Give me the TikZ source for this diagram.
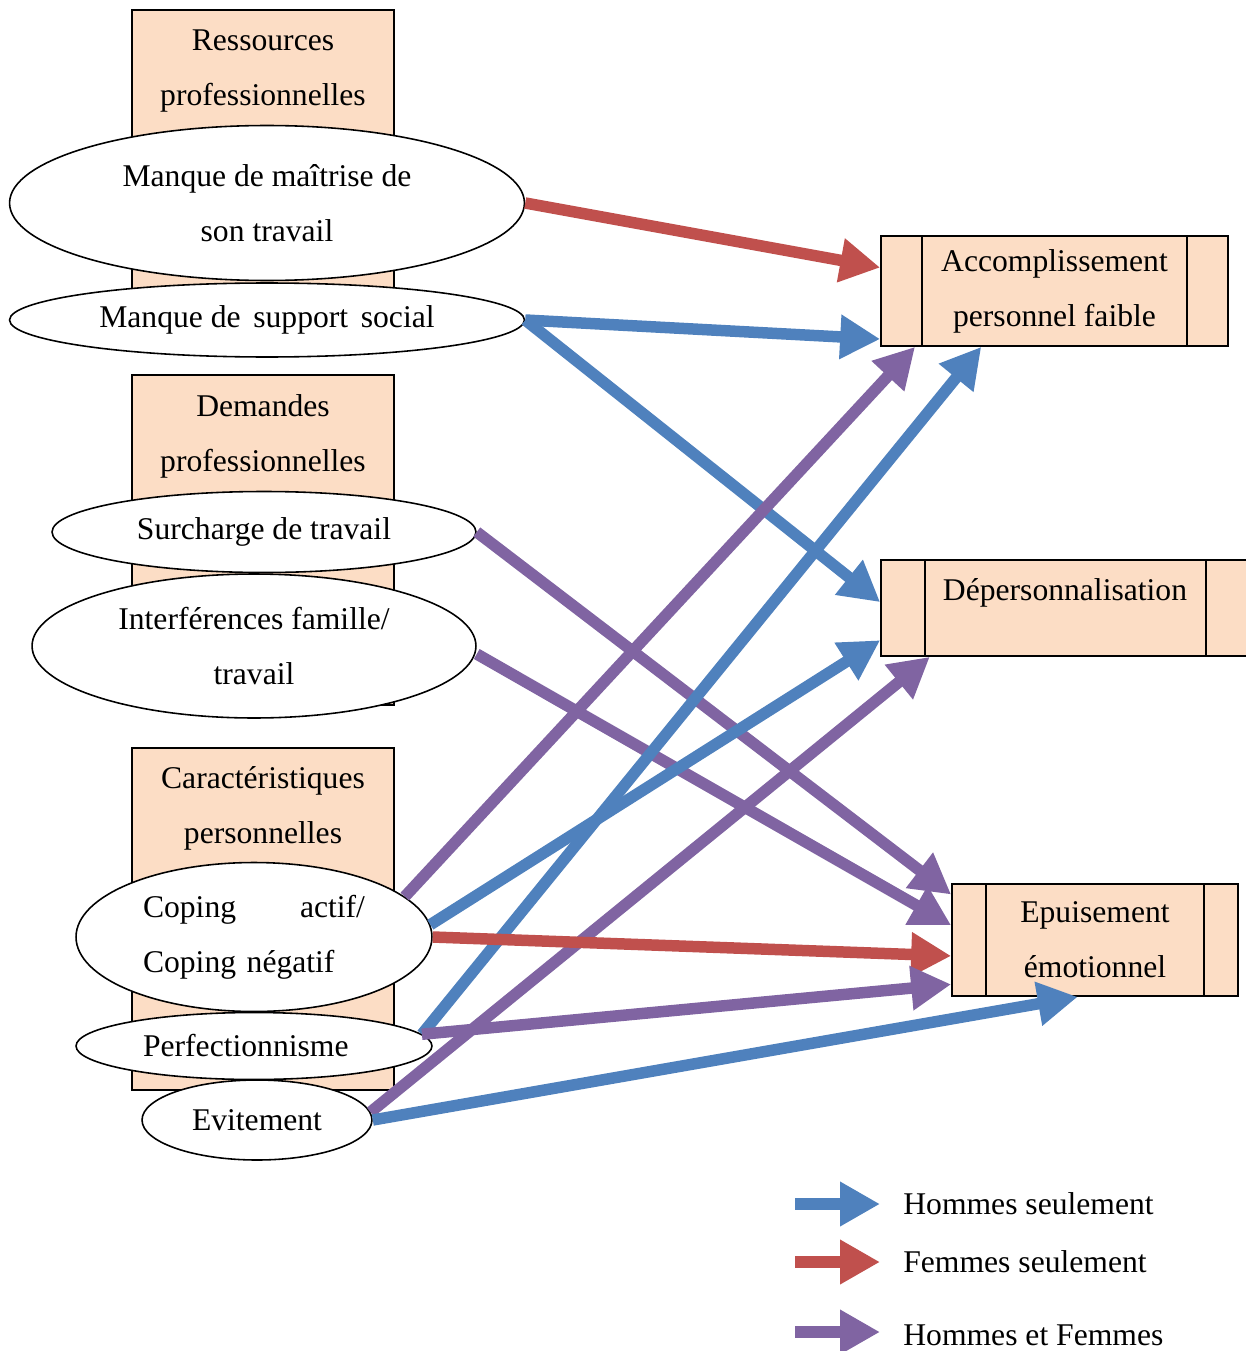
\documentclass[tikz,border=0pt]{standalone}
\usepackage{fontspec}
\setmainfont{Liberation Serif}
\usepackage{xcolor}
\usepackage{tikz}
\usetikzlibrary{arrows.meta,positioning,calc,shapes.geometric}

\definecolor{peach}{RGB}{252,221,197}
\definecolor{hblue}{RGB}{79,129,189}
\definecolor{fred}{RGB}{192,80,77}
\definecolor{mpurple}{RGB}{128,100,162}

\begin{document}
\begin{tikzpicture}[x=0.02cm, y=-0.02cm, >={Triangle[length=8mm, width=8.4mm]},
  font=\fontsize{18}{31.3}\selectfont]
\tikzstyle{grp}=[draw, line width=1pt, fill=peach, minimum width=5.24cm, inner sep=0pt]
\tikzstyle{oval}=[draw, line width=0.9pt, fill=white, ellipse, inner sep=0pt, align=center]
\tikzstyle{proc}=[draw, line width=1pt, fill=peach, inner sep=0pt, align=center]
\tikzstyle{hom}=[draw=hblue, line width=2.3mm]
\tikzstyle{fem}=[draw=fred, line width=2.3mm]
\tikzstyle{mix}=[draw=mpurple, line width=2.3mm]

\useasboundingbox (0,0) rectangle (1245,1351);

% groupes de facteurs
\node[grp, minimum height=5.8cm] (res) at (263,155) {};
\node[align=center] (res-t) at (263,71) {Ressources\\professionnelles};
\node[grp, minimum height=6.6cm] (dem) at (263,540) {};
\node[align=center] (dem-t) at (263,436) {Demandes\\professionnelles};
\node[grp, minimum height=6.84cm] (car) at (263,919) {};
\node[align=center] (car-t) at (263,808) {Caractéristiques\\personnelles};

% facteurs
\node[oval, minimum width=10.3cm, minimum height=3.1cm] (maitrise) at (267,203)
  {Manque de maîtrise de\\son travail};
\node[oval, minimum width=10.3cm, minimum height=1.48cm] (support) at (267,320)
  {\raisebox{-3\pgflinewidth}{Manque de\hspace{0.15em} support\hspace{0.15em} social}};
\node[oval, minimum width=8.48cm, minimum height=1.62cm] (surcharge) at (264,532)
  {\raisebox{-2pt}{Surcharge de travail}};
\node[oval, minimum width=8.88cm, minimum height=2.88cm] (interf) at (254,646)
  {Interférences famille/\\travail};
\node[oval, minimum width=7.12cm, minimum height=2.98cm, text width=4.44cm, align=left] (coping) at (254,937)
  {Coping \hfill actif/\\\mbox{Coping négatif}};
\node[oval, minimum width=7.12cm, minimum height=1.34cm, text width=4.44cm, align=left] (perf) at (254,1046)
  {\raisebox{-2pt}{Perfectionnisme}};
\node[oval, minimum width=4.6cm, minimum height=1.6cm] (evit) at (257,1120)
  {Evitement};

% dimensions du burnout
\node[proc, minimum width=6.94cm, minimum height=2.2cm] (acc) at (1054.5,291)
  {Accomplissement\\personnel faible};
\draw[line width=1pt] ($(acc.north west)+(42,0)$) -- ($(acc.south west)+(42,0)$);
\draw[line width=1pt] ($(acc.north east)+(-42,0)$) -- ($(acc.south east)+(-42,0)$);
\node[proc, minimum width=7.32cm, minimum height=1.92cm] (dep) at (1064,608) {};
\node (dep-t) at (1065,593) {Dépersonnalisation};
\draw[line width=1pt] ($(dep.north west)+(45,0)$) -- ($(dep.south west)+(45,0)$);
\draw[line width=1pt] ($(dep.north east)+(-42,0)$) -- ($(dep.south east)+(-42,0)$);
\node[proc, minimum width=5.72cm, minimum height=2.24cm] (ep) at (1095,940)
  {Epuisement\\émotionnel};
\draw[line width=1pt] ($(ep.north west)+(35,0)$) -- ($(ep.south west)+(35,0)$);
\draw[line width=1pt] ($(ep.north east)+(-35,0)$) -- ($(ep.south east)+(-35,0)$);

% liens
\draw[->, fem] (maitrise.east) -- ($(acc.north west)!0.29!(acc.south west)$);
\draw[->, hom] (support.east) -- ($(acc.north west)!0.93!(acc.south west)$);
\draw[->, hom] (support.east) -- ($(dep.north west)!0.44!(dep.south west)$);
\draw[->, mix] (surcharge.east) -- ($(ep.north west)!0.1!(ep.south west)$);
\draw[->, mix] ($(interf.east)+(0,8)$) -- ($(ep.north west)!0.37!(ep.south west)$);
\draw[->, mix] (coping.15) -- ($(acc.south west)!0.1!(acc.south east)$);
\draw[->, hom] (perf.4) -- ($(acc.south west)!0.29!(acc.south east)$);
\draw[->, hom] (coping.4) -- ($(dep.north west)!0.83!(dep.south west)$);
\draw[->, mix] (evit.4) -- ($(dep.south west)!0.135!(dep.south east)$);
\draw[->, fem] (coping.east) -- ($(ep.north west)!0.64!(ep.south west)$);
\draw[->, mix] (perf.4) -- ($(ep.north west)!0.89!(ep.south west)$);
\draw[->, hom] (evit.east) -- ($(ep.south west)!0.44!(ep.south east)$);

% legende
\node[anchor=west, inner sep=0pt] (l-hom) at (903,1204) {Hommes seulement};
\node[anchor=west, inner sep=0pt] (l-fem) at (903,1262) {Femmes seulement};
\node[anchor=west, inner sep=0pt] (l-mix) at (903,1335) {Hommes et Femmes};
\draw[->, hom] ($(l-hom.west)+(-108,0)$) -- ($(l-hom.west)+(-23,0)$);
\draw[->, fem] ($(l-fem.west)+(-108,0)$) -- ($(l-fem.west)+(-23,0)$);
\draw[->, mix] ($(l-mix.west)+(-108,-3)$) -- ($(l-mix.west)+(-23,-3)$);

\end{tikzpicture}
\end{document}
